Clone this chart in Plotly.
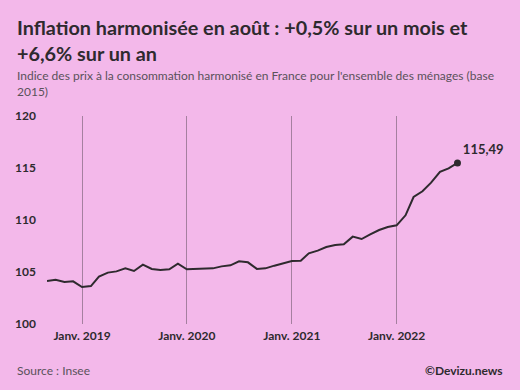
import plotly.graph_objects as go
import pandas as pd

months = pd.date_range("2018-09-01", "2022-08-01", freq="MS")
values = [
    104.13, 104.26, 104.04, 104.10,
    103.56, 103.65, 104.55, 104.94, 105.06, 105.35, 105.10, 105.71, 105.29, 105.19, 105.26, 105.80,
    105.26, 105.29, 105.35, 105.35, 105.54, 105.64, 106.03, 105.93, 105.30, 105.35, 105.61, 105.83,
    106.06, 106.09, 106.79, 107.05, 107.40, 107.60, 107.66, 108.40, 108.17, 108.62, 109.04, 109.33,
    109.49, 110.45, 112.21, 112.76, 113.59, 114.62, 114.97, 115.49,
]
tick_dates = ["2019-01-01", "2020-01-01", "2021-01-01", "2022-01-01"]
tick_labels = ["Janv. 2019", "Janv. 2020", "Janv. 2021", "Janv. 2022"]
y_ticks = [100, 105, 110, 115, 120]
last_label = "115,49"

title = "Inflation harmonisée en août : +0,5% sur un mois et<br>+6,6% sur un an"
subtitle = "Indice des prix à la consommation harmonisé en France pour l'ensemble des ménages (base<br>2015)"
source = "Source : Insee"
credit = "©Devizu.news"

BG = "#F3B8EA"
DARK = "#2e2a2e"

W, H = 520, 390
ML, MR, MT, MB = 47, 14, 116, 66
PW = W - ML - MR
PH = H - MT - MB

def px(x):
    return (x - ML) / PW

def py(y):
    return (H - MB - y) / PH

fig = go.Figure()
fig.add_trace(go.Scatter(
    x=months, y=values, mode="lines",
    line=dict(color=DARK, width=2), hoverinfo="skip", showlegend=False,
))
fig.add_trace(go.Scatter(
    x=[months[-1]], y=[values[-1]], mode="markers+text",
    marker=dict(color=DARK, size=7),
    text=[f"<b>{last_label}</b>"], textposition="top right",
    textfont=dict(family="Lato", size=13, color=DARK),
    hoverinfo="skip", showlegend=False,
))

fig.update_layout(
    width=W, height=H,
    margin=dict(l=ML, r=MR, t=MT, b=MB),
    paper_bgcolor=BG, plot_bgcolor=BG,
    font=dict(family="Lato", color=DARK),
    xaxis=dict(
        type="date",
        range=["2018-09-01", "2023-01-17"],
        tickvals=tick_dates, ticktext=[f"<b>{t}</b>" for t in tick_labels],
        showgrid=True, gridcolor="rgba(70,60,70,0.45)", gridwidth=1,
        zeroline=False, showline=False, ticks="",
        tickfont=dict(family="Lato", size=12, color=DARK),
        ticklabelstandoff=3,
    ),
    yaxis=dict(
        range=[100, 120], tickvals=y_ticks,
        ticktext=[f"<b>{v}</b>" for v in y_ticks],
        showgrid=False, zeroline=False, showline=False, ticks="",
        tickfont=dict(family="Lato", size=12, color=DARK),
        ticklabelstandoff=10,
    ),
    annotations=[
        dict(text=f"<b>{title}</b>", x=px(15), y=py(13), xref="paper", yref="paper",
             xanchor="left", yanchor="top", align="left", showarrow=False,
             font=dict(family="Lato", size=19.8, color=DARK)),
        dict(text=subtitle, x=px(15), y=py(66), xref="paper", yref="paper",
             xanchor="left", yanchor="top", align="left", showarrow=False,
             font=dict(family="Lato", size=12, color="#5a525a")),
        dict(text=source, x=px(15), y=py(370), xref="paper", yref="paper",
             xanchor="left", yanchor="middle", align="left", showarrow=False,
             font=dict(family="Lato", size=12, color="#5a525a")),
        dict(text=f"<b>{credit}</b>", x=px(505), y=py(370), xref="paper", yref="paper",
             xanchor="right", yanchor="middle", align="right", showarrow=False,
             font=dict(family="Lato", size=12, color=DARK)),
    ],
)

fig.write_html("out.html")
